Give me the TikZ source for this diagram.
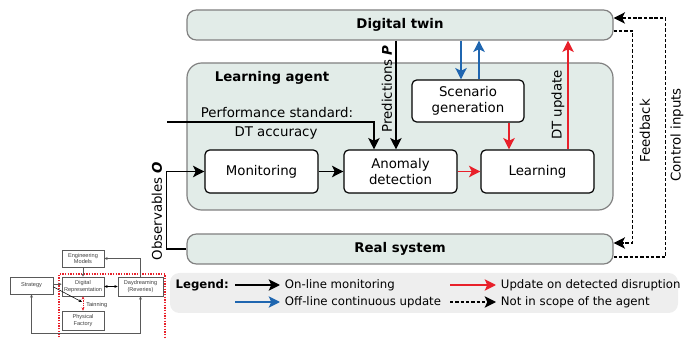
\documentclass[tikz,border=0pt]{standalone}
\usepackage{fontspec}
\setmainfont{DejaVu Sans}
\newfontfamily\thumbfont{Liberation Sans}
\usetikzlibrary{arrows.meta, positioning}
\definecolor{twinfill}{HTML}{E2ECE8}
\definecolor{legendfill}{HTML}{EEEEEE}
\definecolor{updred}{HTML}{E8202A}
\definecolor{offblue}{HTML}{1F66B0}
\definecolor{rimgray}{HTML}{808080}
\tikzset{
  bigbox/.style={draw=rimgray, line width=0.9pt, fill=twinfill, rounded corners=7pt,
    minimum width=319.5pt, minimum height=22.5pt, font=\bfseries},
  block/.style={draw, line width=0.9pt, fill=white, rounded corners=3.5pt,
    minimum width=84.75pt, minimum height=32.25pt, align=center, inner sep=1pt},
  flow/.style={line width=1.3pt, -{Stealth[length=8.5pt, width=8.5pt, inset=2pt]}},
  updflow/.style={flow, draw=updred, color=updred},
  offflow/.style={flow, draw=offblue, color=offblue},
  dashflow/.style={flow, line width=1.1pt, dash pattern=on 2.6pt off 1.4pt},
  legtext/.style={anchor=west, inner sep=1pt, font=\fontsize{8.8}{10}\selectfont},
  thumbbox/.style={draw=gray!70!black, line width=0.4pt, fill=white, align=center,
    font=\thumbfont\fontsize{4.2}{4.8}\selectfont, text=gray!50!black, inner sep=0.5pt},
  thumbarrow/.style={draw=gray!70!black, line width=0.4pt, -{Stealth[length=2.5pt, width=2.2pt]}}
}

\begin{document}
\begin{tikzpicture}[x=0.75pt, y=-0.75pt]
  \useasboundingbox (0,0) rectangle (689,338);

  % twin, agent and plant
  \node[bigbox] (twin) at (400,25) {Digital twin};
  \node[bigbox, minimum height=110.25pt, rounded corners=11pt] (agent) at (400,136.5) {};
  \node[bigbox] (real) at (400,249) {Real system};
  \node[font=\bfseries] (agentlab) at (272,78) {Learning agent};

  % blocks of the agent
  \node[block] (monit) at (261.5,171.5) {Monitoring};
  \node[block] (anom) at (400.5,171.5) {Anomaly\\detection};
  \node[block] (learn) at (537.5,171.5) {Learning};
  \node[block, minimum width=84pt, minimum height=31.5pt] (scen) at (468,101) {Scenario\\generation};

  % on-line path
  \coordinate (perfin) at (167,122);
  \node (perflab) at (277,113) {Performance standard:};
  \node (acclab) at (276,133) {DT accuracy};
  \draw[flow] (perfin) -| ([xshift=-19.9pt]anom.north);
  \draw[flow] ([xshift=-3.4pt]anom.north |- twin.south) -- ([xshift=-3.4pt]anom.north);
  \node[rotate=90] (predlab) at (387,89) {Predictions \textbf{\textit{P}}};
  \draw[flow] (monit) -- (anom);
  \draw[flow] (real.west) -- ++(-20,0) |- (monit.west);
  \node[rotate=90] (obslab) at (157,211) {Observables \textbf{\textit{O}}};

  % updates
  \draw[updflow] (anom) -- (learn);
  \draw[updflow] ([xshift=30.75pt]scen.south) -- ([xshift=30.75pt]scen.south |- learn.north);
  \draw[updflow] ([xshift=22.9pt]learn.north) -- ([xshift=22.9pt]learn.north |- twin.south);
  \node[rotate=90] (dtlab) at (558,105) {DT update};
  \draw[offflow] ([xshift=-5.25pt]scen.north |- twin.south) -- ([xshift=-5.25pt]scen.north);
  \draw[offflow] ([xshift=8.25pt]scen.north) -- ([xshift=8.25pt]scen.north |- twin.south);

  % outside the agent
  \draw[dashflow] ([yshift=-4.5pt]twin.east) -- ++(19,0) |- ([yshift=4.5pt]real.east);
  \draw[dashflow] ([yshift=-6pt]real.east) -- ++(52,0) |- ([yshift=5.25pt]twin.east);
  \node[rotate=90] (fblab) at (645,131) {Feedback};
  \node[rotate=90] (ctrllab) at (677,135) {Control inputs};

  % legend
  \node[fill=legendfill, rounded corners=7pt, minimum width=381pt, minimum height=30pt] (legend) at (424,293) {};
  \node[legtext, font=\fontsize{8.8}{10}\selectfont\bfseries] (leglab) at (174,285) {Legend:};
  \coordinate (la) at (235,285); \coordinate (lb) at (280,285);
  \coordinate (lc) at (235,302); \coordinate (ld) at (280,302);
  \coordinate (le) at (450,285); \coordinate (lf) at (496,285);
  \coordinate (lg) at (450,302); \coordinate (lh) at (496,302);
  \draw[flow] (la) -- (lb);
  \draw[offflow] (lc) -- (ld);
  \draw[updflow] (le) -- (lf);
  \draw[dashflow] (lg) -- (lh);
  \node[legtext] (lt1) at ([xshift=2.5pt]lb) {On-line monitoring};
  \node[legtext] (lt2) at ([xshift=2.5pt]ld) {Off-line continuous update};
  \node[legtext] (lt3) at ([xshift=2.5pt]lf) {Update on detected disruption};
  \node[legtext] (lt4) at ([xshift=2.5pt]lh) {Not in scope of the agent};

  % small factory sketch
  \draw[updred, line width=0.9pt, dash pattern=on 0.9pt off 1.1pt] (59,340) -- (59,274) -- (165,274) -- (165,340);
  \node[thumbbox, minimum width=31.5pt, minimum height=12.75pt] (eng) at (83,258.5) {Engineering\\Models};
  \node[thumbbox, minimum width=32.25pt, minimum height=12.75pt] (strat) at (31.5,285.5) {Strategy};
  \node[thumbbox, minimum width=31.5pt, minimum height=14.25pt] (digrep) at (83,286.5) {Digital\\Representation};
  \node[thumbbox, minimum width=33.75pt, minimum height=14.25pt] (dream) at (140.5,286.5) {Daydreaming\\(Reveries)};
  \node[thumbbox, minimum width=31.5pt, minimum height=14.25pt] (phys) at (83,320.5) {Physical\\Factory};
  \coordinate (trainpt) at (82,302);
  \coordinate (thumbbase) at (0,333);
  \draw[thumbarrow] (eng) -- (digrep);
  \draw[thumbarrow] (dream.north) |- (eng.east);
  \draw[thumbarrow, draw=black, {Stealth[length=2.5pt, width=2.2pt]}-{Stealth[length=2.5pt, width=2.2pt]}] (digrep) -- (dream);
  \draw[thumbarrow] ([yshift=1pt]strat.east) -- ([yshift=1pt]strat.east -| digrep.west);
  \draw[thumbarrow, draw=black] ([yshift=-1pt]strat.east) -- (trainpt);
  \draw[updred, line width=0.6pt, dash pattern=on 0.8pt off 0.8pt, {Stealth[length=2.5pt, width=2.2pt]}-{Stealth[length=2.5pt, width=2.2pt]}] (digrep) -- (phys);
  \node[font=\thumbfont\fontsize{4.2}{4.8}\selectfont, text=gray!40!black, anchor=west, inner sep=0pt] (trainlab) at (86,305) {Tainning};
  \draw[thumbarrow, {Stealth[length=2.5pt, width=2.2pt]}-{Stealth[length=2.5pt, width=2.2pt]}] (strat.south) -- (strat.south |- thumbbase) -| (dream.south);
\end{tikzpicture}
\end{document}
